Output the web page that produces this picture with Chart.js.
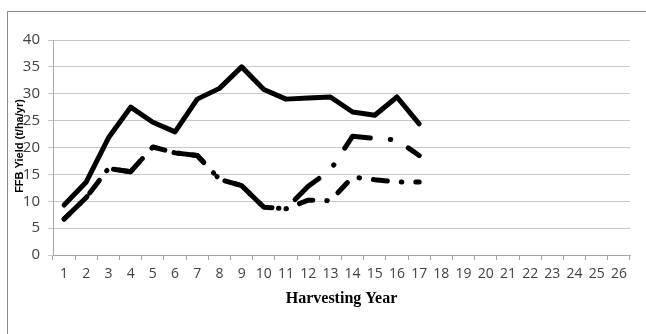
<!DOCTYPE html>
<html>
<head>
<meta charset="utf-8">
<script src="https://cdn.jsdelivr.net/npm/chart.js@4.4.1/dist/chart.umd.min.js"></script>
<style>
  html, body { margin: 0; padding: 0; background: #fff; overflow: hidden; }
  #wrap { position: relative; width: 646px; height: 334px; overflow: hidden; }
  #frame { position: absolute; left: 7px; top: 11px; width: 700px; height: 400px;
           border-left: 1.5px solid #8c8c8c; border-top: 1.5px solid #8c8c8c; }
  canvas { position: absolute; left: 0; top: 0; }
</style>
</head>
<body>
<div id="wrap">
  <div id="frame"></div>
  <canvas id="c" width="646" height="334"></canvas>
</div>
<script>
const years = ['1','2','3','4','5','6','7','8','9','10','11','12','13','14','15','16','17','18','19','20','21','22','23','24','25','26'];
const yTicks = [0, 5, 10, 15, 20, 25, 30, 35, 40];
const solidYield = [9.3, 13.6, 21.8, 27.5, 24.7, 22.9, 29.0, 31.0, 35.0, 30.8, 29.0, 29.2, 29.4, 26.6, 26.0, 29.4, 24.4];
const upperDashed = [6.7, 10.7, 16.1, 15.5, 20.1, 19.0, 18.5, 14.1, 12.9, 8.9, 8.6, 12.8, 15.8, 22.1, 21.7, 21.4, 18.5];
const lowerDashed = [6.7, 10.7, 16.1, 15.5, 20.1, 19.0, 18.5, 14.1, 12.9, 8.9, 8.6, 10.2, 10.1, 14.5, 14.0, 13.6, 13.6];
const yTitle = 'FFB Yield (t/ha/yr)';
const xTitle = 'Harvesting Year';

const titles = {
  id: 'titles',
  afterDraw(chart) {
    const ctx = chart.ctx;
    const a = chart.chartArea;
    ctx.save();
    ctx.fillStyle = '#000';
    ctx.font = 'bold 16px "Liberation Serif"';
    ctx.textAlign = 'center';
    ctx.textBaseline = 'middle';
    ctx.fillText(xTitle, (a.left + a.right) / 2, 299);
    ctx.translate(19.5, 146);
    ctx.rotate(-Math.PI / 2);
    ctx.font = 'bold 11px "Liberation Sans"';
    ctx.fillText(yTitle, 0, 0);
    ctx.restore();
  }
};

const common = { borderColor: '#000', borderWidth: 5, pointRadius: 0, tension: 0,
                 borderCapStyle: 'round', borderJoinStyle: 'round', fill: false, spanGaps: false };

new Chart(document.getElementById('c'), {
  type: 'line',
  data: {
    labels: years,
    datasets: [
      Object.assign({ label: 'A', data: solidYield }, common),
      Object.assign({ label: 'B', data: upperDashed, borderDash: [32, 20, 0.5, 20] }, common),
      Object.assign({ label: 'C', data: lowerDashed, borderDash: [14, 14, 0.5, 14], borderDashOffset: 6 }, common)
    ]
  },
  options: {
    responsive: false,
    devicePixelRatio: 1,
    animation: false,
    layout: { padding: { left: 0, top: 40, right: 16, bottom: 0 } },
    plugins: { legend: { display: false }, tooltip: { enabled: false }, title: { display: false } },
    scales: {
      x: {
        type: 'category',
        offset: true,
        grid: { offset: true, drawOnChartArea: false, drawTicks: true, tickLength: 5, color: '#a6a6a6' },
        border: { color: '#a6a6a6', width: 1 },
        ticks: { font: { family: "'Open Sans'", size: 14 }, color: '#404040', padding: 6, maxRotation: 0, autoSkip: false },
        afterFit(s) { s.height = 79; }
      },
      y: {
        min: 0, max: 40,
        afterBuildTicks(s) { s.ticks = yTicks.map(v => ({ value: v })); },
        grid: { color: '#c8c8c8', lineWidth: 1, drawTicks: true, tickLength: 5 },
        border: { color: '#a6a6a6', width: 1 },
        ticks: { font: { family: "'Open Sans'", size: 15 }, color: '#404040', padding: 8 },
        afterFit(s) { s.width = 53; }
      }
    }
  },
  plugins: [titles]
});
</script>
</body>
</html>
